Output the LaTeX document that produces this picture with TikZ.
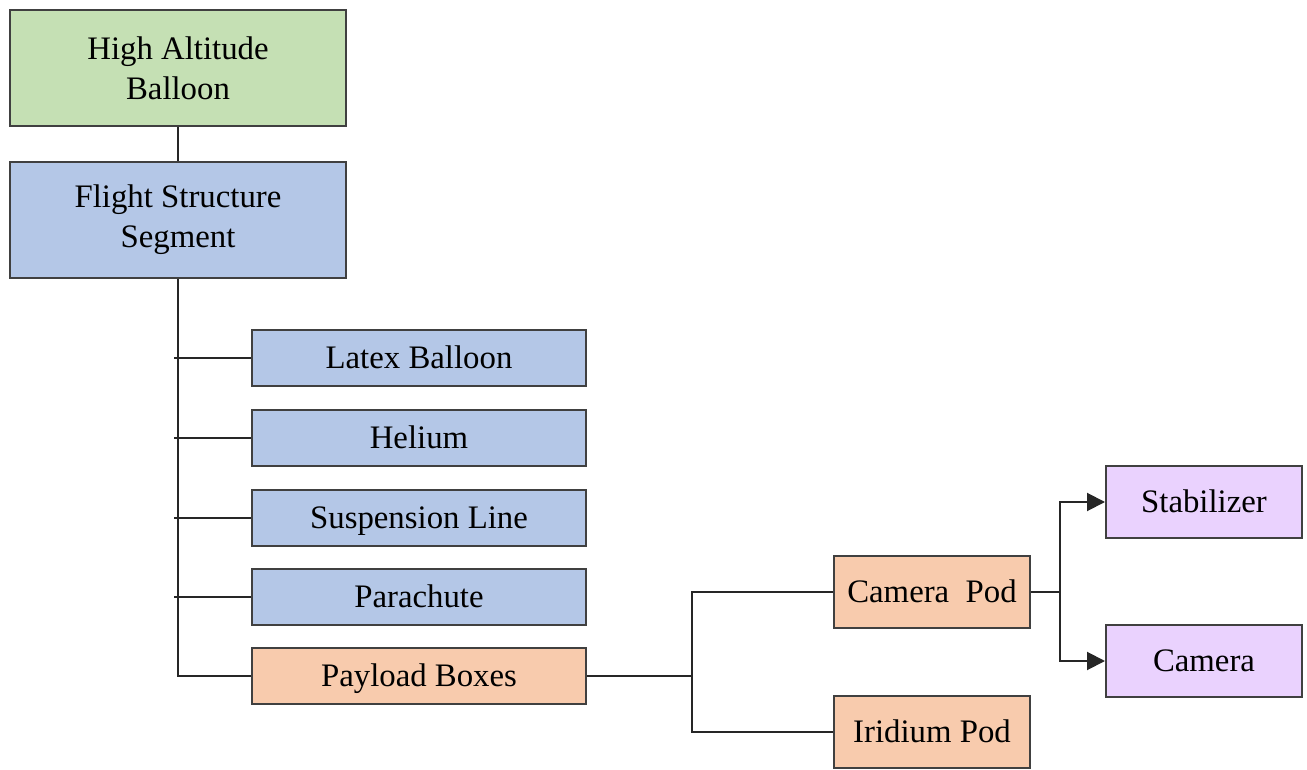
\documentclass[tikz,border=0pt]{standalone}
\usepackage{fontspec}
\setmainfont{Liberation Serif}
\usepackage{xcolor}
\usetikzlibrary{arrows.meta,positioning}
\definecolor{hagreen}{HTML}{C5E0B4}
\definecolor{fsblue}{HTML}{B4C7E7}
\definecolor{pborange}{HTML}{F8CBAD}
\definecolor{cppurple}{HTML}{EAD2FE}
\definecolor{boxedge}{HTML}{404040}

\begin{document}
\begin{tikzpicture}[x=0.5pt,y=-0.5pt,>={Triangle[length=9pt,width=9pt]},
box/.style={draw=boxedge, line width=1pt, align=center, inner sep=0pt,
    font=\fontsize{16.4}{20}\selectfont},
bigbox/.style={box, minimum width=168pt, minimum height=58pt},
listbox/.style={box, minimum width=167pt, minimum height=28pt,
    text height=12pt, text depth=2pt},
podbox/.style={box, minimum width=98pt, minimum height=36pt,
    text height=12pt, text depth=2pt},
link/.style={draw=black!85, line width=1pt}]
\useasboundingbox (0,0) rectangle (1307,770);
\node[bigbox, fill=hagreen] (hab) at (178,68) {High Altitude\\Balloon};
\node[bigbox, fill=fsblue] (fss) at (178,220) {Flight Structure\\Segment};
\node[listbox, fill=fsblue] (latex) at (419,358) {Latex Balloon};
\node[listbox, fill=fsblue] (helium) at (419,438) {Helium};
\node[listbox, fill=fsblue] (line) at (419,518) {Suspension Line};
\node[listbox, fill=fsblue] (chute) at (419,597) {Parachute};
\node[listbox, fill=pborange] (payload) at (419,676) {Payload Boxes};
\node[podbox, fill=pborange] (campod) at (932,592) {Camera\ \ Pod};
\node[podbox, fill=pborange] (iripod) at (932,732) {Iridium Pod};
\node[podbox, fill=cppurple] (stab) at (1204,502) {Stabilizer};
\node[podbox, fill=cppurple] (cam) at (1204,661) {Camera};
\coordinate (split) at (692,676);
\coordinate (fork) at (1060,592);
% trunk
\draw[link] (hab) -- (fss);
\draw[link] (fss.south) |- (payload.west);
\foreach \n in {latex,helium,line,chute}
  \draw[link] ([xshift=-2pt]fss.south |- \n.west) -- (\n.west);
% pods
\draw[link] (payload.east) -- (split);
\draw[link] (split) |- (campod.west);
\draw[link] (split) |- (iripod.west);
\draw[link] (campod.east) -- (fork);
\draw[link,->] (fork) |- (stab.west);
\draw[link,->] (fork) |- (cam.west);
\end{tikzpicture}
\end{document}
